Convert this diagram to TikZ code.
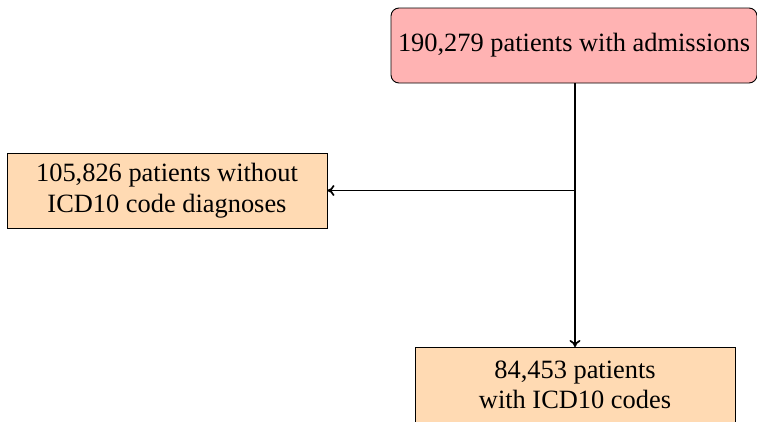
\documentclass[tikz,border=0pt]{standalone}
\usepackage{fontspec}
\setmainfont{Liberation Serif}
\usetikzlibrary{arrows.meta}
\definecolor{toppink}{RGB}{255,179,179}
\definecolor{peach}{RGB}{255,218,179}
\begin{document}
\begin{tikzpicture}[x=1pt,y=1pt,
  box/.style={draw=black,line width=0.9pt,align=center,inner sep=0pt,
    font=\fontsize{26.4}{30.5}\selectfont,minimum height=75pt},
  flow/.style={line width=1.7pt,-{To[length=7pt,width=11pt]}}]
\useasboundingbox (0,0) rectangle (757,-421);
\node[box,fill=toppink,rounded corners=8pt,minimum width=366pt] (top) at (574,-45.5) {190,279 patients with admissions};
\node[box,fill=peach,minimum width=320pt] (left) at (167,-190.5) {105,826 patients without\\ICD10 code diagnoses};
\node[box,fill=peach,minimum width=320pt,anchor=north] (bot) at (575,-347) {84,453 patients\\with ICD10 codes};
\coordinate (split) at (575,-190.5);
\draw[flow] (top.south -| bot.north) -- (bot.north);
\draw[flow] (split) -- (left.east);
\end{tikzpicture}
\end{document}
